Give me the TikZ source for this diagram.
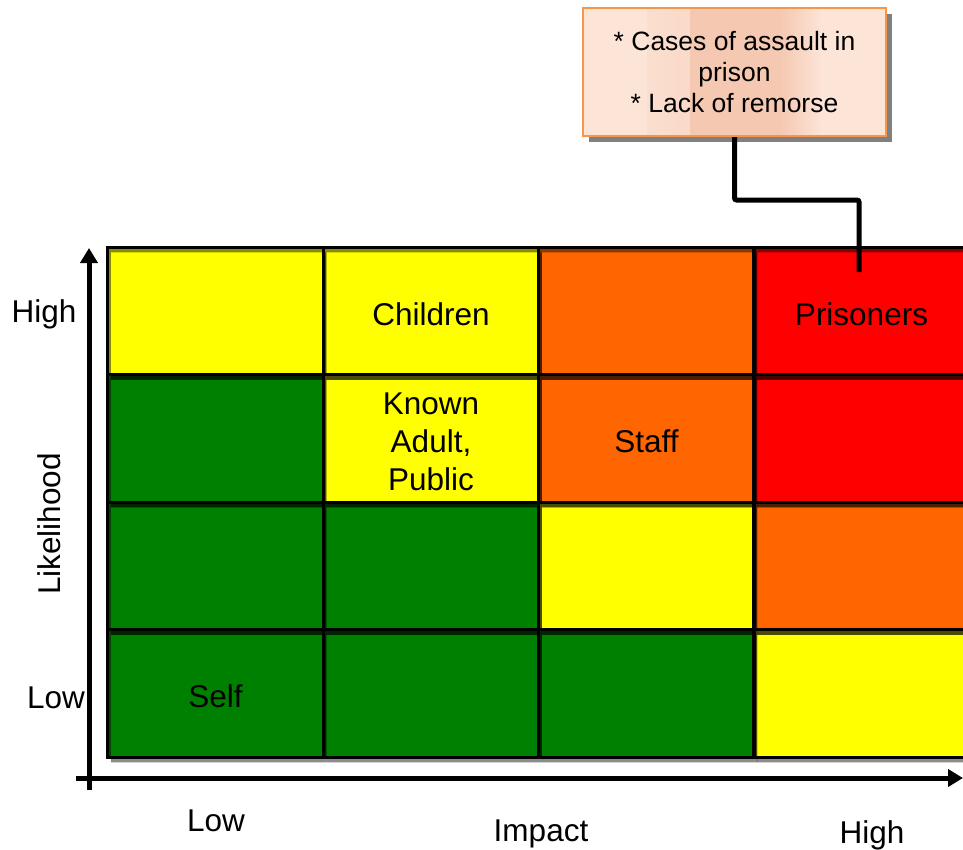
\documentclass[tikz,border=0pt]{standalone}
\usepackage{fontspec}
\setmainfont{Liberation Sans}
\usetikzlibrary{arrows.meta,shadows}

\definecolor{riskyellow}{HTML}{FFFF00}
\definecolor{riskgreen}{HTML}{008000}
\definecolor{riskorange}{HTML}{FF6600}
\definecolor{riskred}{HTML}{FF0000}
\definecolor{notebg}{HTML}{FCE4D6}
\definecolor{notemid}{HTML}{F5C8B2}
\definecolor{noteline}{HTML}{F7964A}

\newcommand\cellfont{\fontsize{31.5}{38}\selectfont}
\newcommand\notefont{\fontsize{26.5}{31}\selectfont}
\newcommand\cellstrut{\rule{0pt}{29pt}}

\begin{document}
\begin{tikzpicture}[x=1pt,y=1pt,
  cell/.style={minimum width=215.5pt, minimum height=127.5pt, inner sep=0pt,
    outer sep=0pt, align=center, font=\cellfont},
  cellshadow/.style={black, opacity=.45, even odd rule},
  cellborder/.style={line width=3pt},
  axislabel/.style={font=\cellfont, inner sep=0pt, anchor=base},
  axis/.style={line width=5pt, -{Triangle[length=15pt,width=17pt]}},
  connector/.style={line width=5pt, rounded corners=2pt},
  note/.style={draw=noteline, line width=2pt, fill=notebg, minimum width=303pt,
    minimum height=128pt, inner sep=0pt, align=center, font=\notefont,
    drop shadow={shadow xshift=6pt, shadow yshift=-6pt, fill=black!50, opacity=1},
    path picture={
      \shade[left color=notebg, right color=notemid]
        ([xshift=-87pt]path picture bounding box.north) rectangle
        ([xshift=-45pt]path picture bounding box.south);
      \fill[notemid]
        ([xshift=-45pt]path picture bounding box.north) rectangle
        ([xshift=45pt]path picture bounding box.south);
      \shade[left color=notemid, right color=notebg]
        ([xshift=45pt]path picture bounding box.north) rectangle
        ([xshift=87pt]path picture bounding box.south);
    }},
]
\useasboundingbox (0,0) rectangle (963,-849);
\clip (0,0) rectangle (963,-849);

% risk matrix: rows from high to low likelihood, columns from low to high impact
\node[cell, fill=riskyellow] (c11) at (215.5,-311) {};
\node[cell, fill=riskyellow] (c12) at (431,-311)   {\cellstrut Children};
\node[cell, fill=riskorange] (c13) at (646.5,-311) {};
\node[cell, fill=riskred]    (c14) at (861.5,-311) {\cellstrut Prisoners};

\node[cell, fill=riskgreen]  (c21) at (215.5,-438.5) {};
\node[cell, fill=riskyellow] (c22) at (431,-438.5)   {\cellstrut Known\\Adult,\\Public};
\node[cell, fill=riskorange] (c23) at (646.5,-438.5) {\cellstrut Staff};
\node[cell, fill=riskred]    (c24) at (861.5,-438.5) {};

\node[cell, fill=riskgreen]  (c31) at (215.5,-566) {};
\node[cell, fill=riskgreen]  (c32) at (431,-566)   {};
\node[cell, fill=riskyellow] (c33) at (646.5,-566) {};
\node[cell, fill=riskorange] (c34) at (861.5,-566) {};

\node[cell, fill=riskgreen]  (c41) at (215.5,-693.5) {\cellstrut Self};
\node[cell, fill=riskgreen]  (c42) at (431,-693.5)   {};
\node[cell, fill=riskgreen]  (c43) at (646.5,-693.5) {};
\node[cell, fill=riskyellow] (c44) at (861.5,-693.5) {};

% soft shadows of the cells, then their outlines
\foreach \c in {c11,c12,c13,c14,c21,c22,c23,c24,c31,c32,c33,c34,c41,c42,c43,c44}
  \fill[cellshadow] ([shift={(3,-5)}]\c.south west) rectangle ([shift={(3,-5)}]\c.north east)
                    (\c.south west) rectangle (\c.north east);
\foreach \c in {c11,c12,c13,c14,c21,c22,c23,c24,c31,c32,c33,c34,c41,c42,c43,c44}
  \draw[cellborder] (\c.south west) rectangle (\c.north east);

% axes
\coordinate (yfoot) at (89,-790);
\coordinate (ytip)  at (89,-248);
\coordinate (xfoot) at (76,-778);
\coordinate (xtip)  at (963,-778);
\draw[axis] (yfoot) -- (ytip);
\draw[axis] (xfoot) -- (xtip);

% axis labels
\node[axislabel] (yhigh) at (44,-322) {High};
\node[axislabel] (ylow)  at (56,-708) {Low};
\node[axislabel, rotate=90] (ytitle) at (60,-524) {Likelihood};
\node[axislabel] (xlow)    at (216,-831) {Low};
\node[axislabel] (xtitle)  at (541,-841) {Impact};
\node[axislabel] (xhigh)   at (872,-843) {High};

% callout for the prisoners cell
\node[note] (callout) at (734.5,-72) {* Cases of assault in\\prison\\* Lack of remorse};
\coordinate (pin) at (859,-272);
\draw[connector] (callout.south) -- ++(0,-63) -| (pin);
\end{tikzpicture}
\end{document}
